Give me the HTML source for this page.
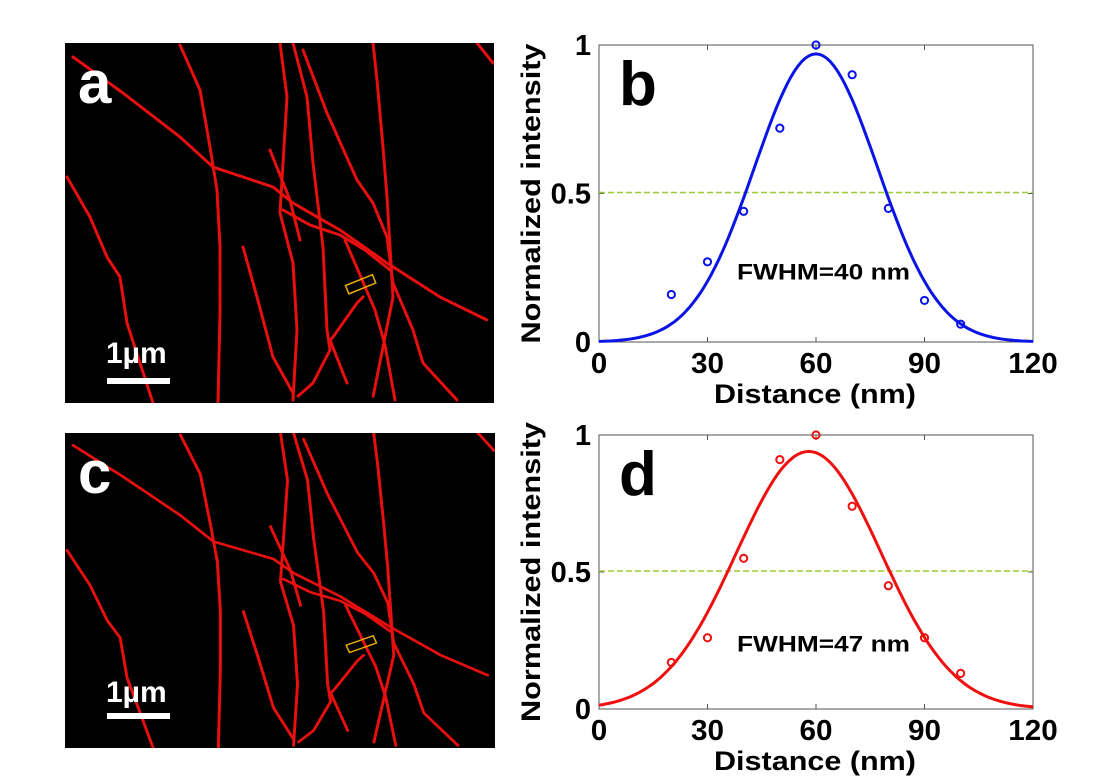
<!DOCTYPE html>
<html><head><meta charset="utf-8"><style>
html,body{margin:0;padding:0;background:#fff;width:1118px;height:783px;overflow:hidden}
svg{display:block}
text{font-family:"Liberation Sans",Arial,sans-serif;font-weight:bold}
</style></head><body>
<svg id="s" width="1118" height="783" viewBox="0 0 1118 783" xmlns="http://www.w3.org/2000/svg">
<defs>
<g id="fil" fill="none" stroke="#e8100f" stroke-width="3" stroke-linejoin="round" stroke-linecap="round" stroke-dasharray="4 1.5">
<polyline points="73,57 123,93 180,137 213,167 273,187 293,203 340,230 387,263 440,297 487,320"/>
<polyline points="67,177 90,217 107,257 120,277 127,323 140,363 153,403"/>
<polyline points="180,45 200,90 210,147 217,190 220,247 220,313 218,403"/>
<polyline points="243,247 257,297 273,357 293,393"/>
<polyline points="280,43 287,97 280,213 293,263 297,330 293,400"/>
<polyline points="293,43 307,97 313,163 323,247 327,330 330,350 313,383 297,397"/>
<polyline points="303,50 327,113 357,180 373,203 387,237 393,283 413,330 423,363 457,400"/>
<polyline points="373,43 377,80 383,147 387,197 390,247 393,297 383,347 373,397"/>
<polyline points="363,297 357,303 333,337 330,340 347,383"/>
<polyline points="283,210 310,225 340,235 365,250 390,270"/>
<polyline points="477,43 493,63"/>
<polyline points="270,150 290,200 300,240"/>
<polyline points="345,240 360,275 375,310 385,345 395,400"/>
</g>
</defs>
<rect x="65" y="43" width="429" height="360" fill="#000"/>
<svg x="65" y="43" width="429" height="360" viewBox="65 43 429 360"><use href="#fil"/>
<rect x="346" y="280" width="29" height="9" fill="none" stroke="#f0b000" stroke-width="1.5" transform="rotate(-22 360 284)"/></svg>
<text x="78" y="103" fill="#fff" font-size="60">a</text>
<text x="106" y="363" fill="#fff" font-size="30">1µm</text>
<rect x="107" y="378" width="63" height="6" fill="#fff"/>
<rect x="65" y="433" width="430" height="315" fill="#000"/>
<svg x="65" y="433" width="430" height="315" viewBox="65 43 429 360" preserveAspectRatio="none"><use href="#fil"/>
<rect x="346" y="280" width="29" height="9" fill="none" stroke="#f0b000" stroke-width="1.5" transform="rotate(-22 360 284)"/></svg>
<text x="78" y="493" fill="#fff" font-size="60">c</text>
<text x="106" y="702" fill="#fff" font-size="30">1µm</text>
<rect x="107" y="713" width="63" height="6" fill="#fff"/>
<g id="plots"></g>
</svg>
<script>
const NS="http://www.w3.org/2000/svg";
const root=document.getElementById("plots");
function el(t,a,txt){const e=document.createElementNS(NS,t);for(const k in a)e.setAttribute(k,a[k]);if(txt!==undefined)e.textContent=txt;root.appendChild(e);return e;}
function plot(top,bot,col,pts,mu,amp,sig,letter,fw){
 const x0=599,x1=1033;const X=v=>x0+v*(x1-x0)/120;const Y=v=>bot-(bot-top)*v;
 el("rect",{x:x0,y:top,width:x1-x0,height:bot-top,fill:"#fff",stroke:"#555","stroke-width":1});
 [30,60,90].forEach(v=>{el("line",{x1:X(v),x2:X(v),y1:bot,y2:bot-5,stroke:"#555"});el("line",{x1:X(v),x2:X(v),y1:top,y2:top+5,stroke:"#555"});});
 el("line",{x1:x0,x2:x0+5,y1:Y(.5),y2:Y(.5),stroke:"#555"});el("line",{x1:x1,x2:x1-5,y1:Y(.5),y2:Y(.5),stroke:"#555"});
 el("line",{x1:x0,x2:x1,y1:Y(.5)-1,y2:Y(.5)-1,stroke:"#9acd32","stroke-width":1.5,"stroke-dasharray":"6 3"});
 let d="";for(let v=0;v<=120;v+=1){const y=amp*Math.exp(-((v-mu)**2)/(2*sig*sig));d+=(v?"L":"M")+X(v).toFixed(1)+","+Y(y).toFixed(1);}
 el("path",{d:d,fill:"none",stroke:col,"stroke-width":3});
 pts.forEach((p,i)=>el("circle",{cx:X(20+10*i),cy:Y(p),r:3.6,fill:"none",stroke:col,"stroke-width":2}));
 [0,30,60,90,120].forEach(v=>{const s=String(v);el("text",{x:X(v)-s.length*16.5/2,y:bot+31,"font-size":29,textLength:s.length*16.5,lengthAdjust:"spacingAndGlyphs"},s);});
 el("text",{x:x0-8,y:Y(1)+10,"font-size":29,"text-anchor":"end"},"1");
 el("text",{x:x0-8,y:Y(.5)+10,"font-size":29,"text-anchor":"end"},"0.5");
 el("text",{x:x0-8,y:bot+10,"font-size":29,"text-anchor":"end"},"0");
 el("text",{x:714,y:bot+61,"font-size":27,textLength:202,lengthAdjust:"spacingAndGlyphs"},"Distance (nm)");
 const cy=(top+bot)/2;
 el("text",{x:cy*0+ (-cy-150),y:0,"font-size":27,textLength:300,lengthAdjust:"spacingAndGlyphs",transform:`translate(540 0) rotate(-90)`,dy:0},"Normalized intensity");
 el("text",{x:619,y:top+60,"font-size":62},letter);
 el("text",{x:737,y:top+(bot-top)*0.79,"font-size":22,textLength:173,lengthAdjust:"spacingAndGlyphs"},fw);
}
plot(45,342,"#0a14e6",[.16,.27,.44,.72,1,.9,.45,.14,.06],60,.97,17,"b","FWHM=40 nm");
plot(435,709,"#f01010",[.17,.26,.55,.91,1,.74,.45,.26,.13],58,.94,20,"d","FWHM=47 nm");
</script>
</body></html>
